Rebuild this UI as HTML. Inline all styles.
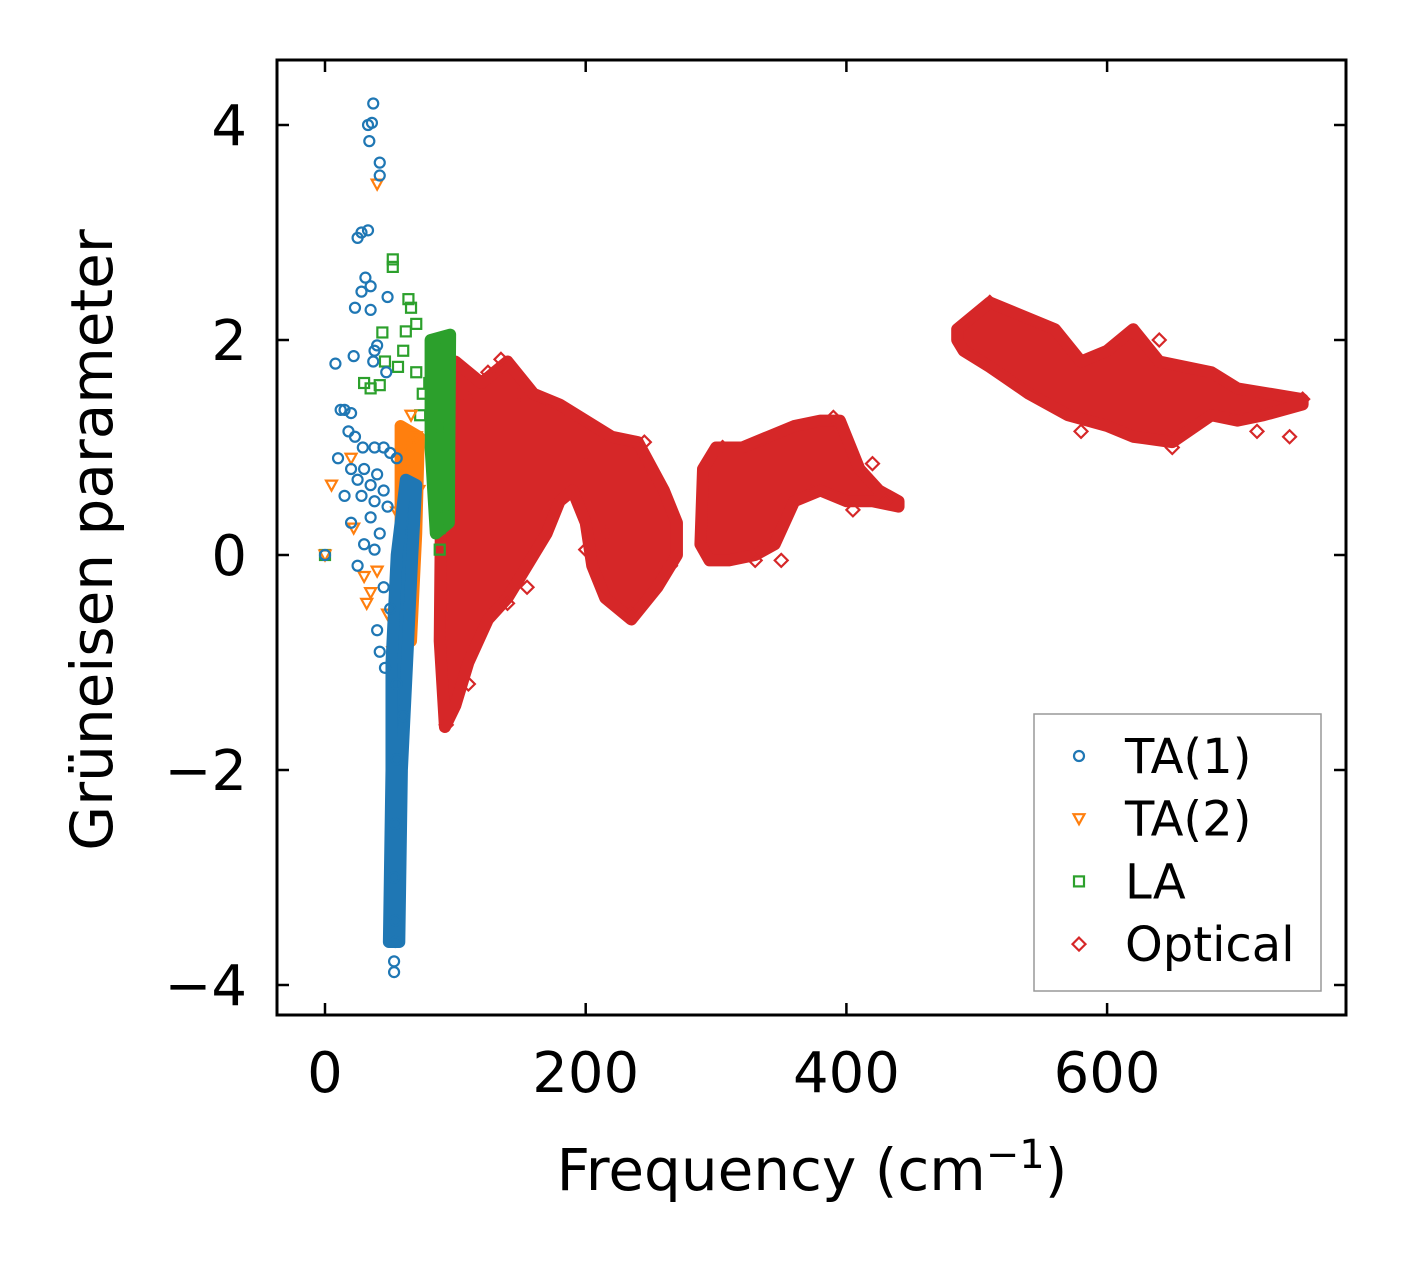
<!DOCTYPE html>
<html><head><meta charset="utf-8"><style>
body{margin:0;background:#fff}svg{display:block}
text{font-family:"DejaVu Sans","Liberation Sans",sans-serif;fill:#000}
</style></head><body>
<svg id="c" width="1406" height="1264" xmlns="http://www.w3.org/2000/svg">
<rect width="1406" height="1264" fill="#fff"/>
<g id="marks"></g>
<rect x="277" y="60" width="1069" height="955" fill="none" stroke="#000" stroke-width="3"/>
<g id="axes"></g>
<text x="112" y="540" font-size="58" text-anchor="middle" transform="rotate(-90 112 540)">Grüneisen parameter</text>
<text x="812" y="1190" font-size="58" text-anchor="middle">Frequency (cm<tspan dy="-22" font-size="40">−1</tspan><tspan dy="22">)</tspan></text>
<g>
<rect x="1034" y="714" width="287" height="277" fill="#fff" stroke="#999" stroke-width="1.5"/>
<g id="leg"></g>
</g>
</svg>
<script>
const xTicks=[0,200,400,600];
const yTicks=[4,2,0,-2,-4];
const yTickLabels=["4","2","0","−2","−4"];
const opticalBandA=[[90,1.7],[100,1.8],[120,1.6],[140,1.8],[160,1.5],[180,1.4],[200,1.25],[220,1.1],[240,1.05],[260,0.6],[270,0.3],[270,0.0],[255,-0.3],[235,-0.6],[215,-0.4],[205,-0.1],[200,0.3],[190,0.6],[180,0.5],[170,0.2],[160,0.0],[150,-0.2],[140,-0.4],[125,-0.6],[110,-1.0],[100,-1.4],[92,-1.6],[88,-0.8]];
const opticalBandB=[[290,0.8],[300,1.0],[320,1.0],[340,1.1],[360,1.2],[380,1.25],[395,1.25],[410,0.8],[425,0.6],[440,0.5],[440,0.45],[420,0.5],[400,0.5],[380,0.6],[360,0.5],[345,0.1],[330,0.0],[310,-0.05],[295,-0.05],[288,0.1]];
const opticalBandC=[[485,2.1],[510,2.35],[530,2.25],[560,2.1],[580,1.8],[600,1.9],[620,2.1],[640,1.8],[680,1.7],[700,1.55],[750,1.45],[750,1.4],[720,1.3],[700,1.25],[680,1.3],[650,1.05],[620,1.1],[600,1.2],[570,1.3],[540,1.5],[510,1.75],[490,1.9],[485,2.0]];
const ta1Band=[[49,-3.6],[57,-3.6],[59,-2],[63,-1],[67,0],[70,0.65],[62,0.7],[55,0],[51,-1],[51,-2]];
const ta2Band=[[58,1.2],[72,1.1],[70,0.2],[66,-0.8],[58,-0.2]];
const laBand=[[81,2.0],[96,2.05],[95,0.3],[85,0.2],[81,1.0]];
const ta1Pts=[[37,4.2],[36,4.02],[33,4.0],[34,3.85],[42,3.65],[42,3.53],[28,3.0],[33,3.02],[25,2.95],[31,2.58],[35,2.5],[28,2.45],[23,2.3],[35,2.28],[48,2.4],[40,1.95],[38,1.9],[37,1.8],[8,1.78],[22,1.85],[47,1.7],[15,1.35],[20,1.32],[12,1.35],[18,1.15],[23,1.1],[45,1.0],[38,1.0],[29,1.0],[50,0.95],[55,0.9],[10,0.9],[20,0.8],[30,0.8],[40,0.75],[25,0.7],[35,0.65],[45,0.6],[28,0.55],[15,0.55],[38,0.5],[48,0.45],[20,0.3],[35,0.35],[42,0.2],[30,0.1],[38,0.05],[25,-0.1],[45,-0.3],[50,-0.5],[40,-0.7],[42,-0.9],[46,-1.05],[55,-1.2],[60,-1.5],[55,-1.9],[54,-2.5],[53,-3.0],[54,-3.4],[54,-3.6],[53,-3.78],[53,-3.88],[0,0]];
const ta2Pts=[[40,3.45],[20,0.9],[5,0.65],[22,0.25],[30,-0.2],[35,-0.35],[40,-0.15],[32,-0.45],[48,-0.55],[52,-0.9],[58,-0.6],[62,-0.3],[55,0.4],[60,0.8],[66,1.3],[62,1.0],[70,1.1],[72,0.6],[68,0.1],[64,-0.8],[0,0]];
const laPts=[[52,2.75],[52,2.68],[64,2.38],[66,2.3],[70,2.15],[44,2.07],[62,2.08],[46,1.8],[56,1.75],[30,1.6],[35,1.55],[42,1.58],[60,1.9],[70,1.7],[75,1.5],[73,1.3],[80,1.6],[88,1.2],[92,0.45],[88,0.25],[88,0.05],[0,0]];
const optPts=[[93,1.8],[110,1.45],[135,1.82],[125,1.7],[150,1.5],[175,1.4],[190,1.3],[205,0.9],[215,0.2],[200,0.05],[155,-0.3],[140,-0.45],[110,-1.2],[93,-1.58],[235,-0.55],[265,-0.1],[245,1.05],[305,1.0],[330,-0.05],[350,-0.05],[375,0.6],[390,1.28],[420,0.85],[430,0.5],[405,0.42],[510,2.35],[640,2.0],[700,1.3],[715,1.15],[740,1.1],[750,1.45],[580,1.15],[650,1.0]];
const X=f=>325+f*1.3035, Y=g=>555-g*107.5;
const NS="http://www.w3.org/2000/svg";
const marks=document.getElementById('marks'),axes=document.getElementById('axes'),leg=document.getElementById('leg');
function mk(tag,at,p){const e=document.createElementNS(NS,tag);for(const k in at)e.setAttribute(k,at[k]);p.appendChild(e);return e;}
function band(arr,col,name){const e=mk('polygon',{points:arr.map(d=>X(d[0])+','+Y(d[1])).join(' '),fill:col,stroke:col,'stroke-width':12,'stroke-linejoin':'round'},marks);

}
function marker(type,x,y,col,p){let e;
if(type==='o')e=mk('circle',{cx:x,cy:y,r:5,fill:'none',stroke:col,'stroke-width':2.2},p);
else if(type==='v')e=mk('polygon',{points:`${x-5.5},${y-4.5} ${x+5.5},${y-4.5} ${x},${y+5.5}`,fill:'none',stroke:col,'stroke-width':2.2},p);
else if(type==='s')e=mk('rect',{x:x-5,y:y-5,width:10,height:10,fill:'none',stroke:col,'stroke-width':2.2},p);
else e=mk('polygon',{points:`${x},${y-6.5} ${x+6.5},${y} ${x},${y+6.5} ${x-6.5},${y}`,fill:'none',stroke:col,'stroke-width':2.2},p);
return e;}
function pts(arr,type,col,name){arr.forEach(d=>{const e=marker(type,X(d[0]),Y(d[1]),col,marks);

});}
const R='#d62728',B='#1f77b4',O='#ff7f0e',G='#2ca02c';
band(opticalBandA,R,'optical-band-a');band(opticalBandB,R,'optical-band-b');band(opticalBandC,R,'optical-band-c');
pts(optPts,'d',R,'optical-point');
band(laBand,G,'la-band');pts(laPts,'s',G,'la-point');
band(ta2Band,O,'ta2-band');pts(ta2Pts,'v',O,'ta2-point');
band(ta1Band,B,'ta1-band');pts(ta1Pts,'o',B,'ta1-point');
xTicks.forEach(v=>{const x=X(v);
mk('line',{x1:x,y1:1015,x2:x,y2:1003,stroke:'#000','stroke-width':2.5},axes);
mk('line',{x1:x,y1:60,x2:x,y2:72,stroke:'#000','stroke-width':2.5},axes);
const t=mk('text',{x:x,y:1092,'font-size':56,'text-anchor':'middle'},axes);t.textContent=v;

});
yTicks.forEach((v,i)=>{const y=Y(v);
mk('line',{x1:277,y1:y,x2:289,y2:y,stroke:'#000','stroke-width':2.5},axes);
mk('line',{x1:1346,y1:y,x2:1334,y2:y,stroke:'#000','stroke-width':2.5},axes);
const t=mk('text',{x:247,y:y+20,'font-size':56,'text-anchor':'end'},axes);t.textContent=yTickLabels[i];

});
const legLabels=['TA(1)','TA(2)','LA','Optical'],legTypes=['o','v','s','d'],legCols=[B,O,G,R];
legLabels.forEach((l,i)=>{const y=756+i*62.7;const g=mk('g',{},leg);


marker(legTypes[i],1079,y,legCols[i],g);
const t=mk('text',{x:1125,y:y+17,'font-size':48},g);t.textContent=l;});
</script>
</body></html>
